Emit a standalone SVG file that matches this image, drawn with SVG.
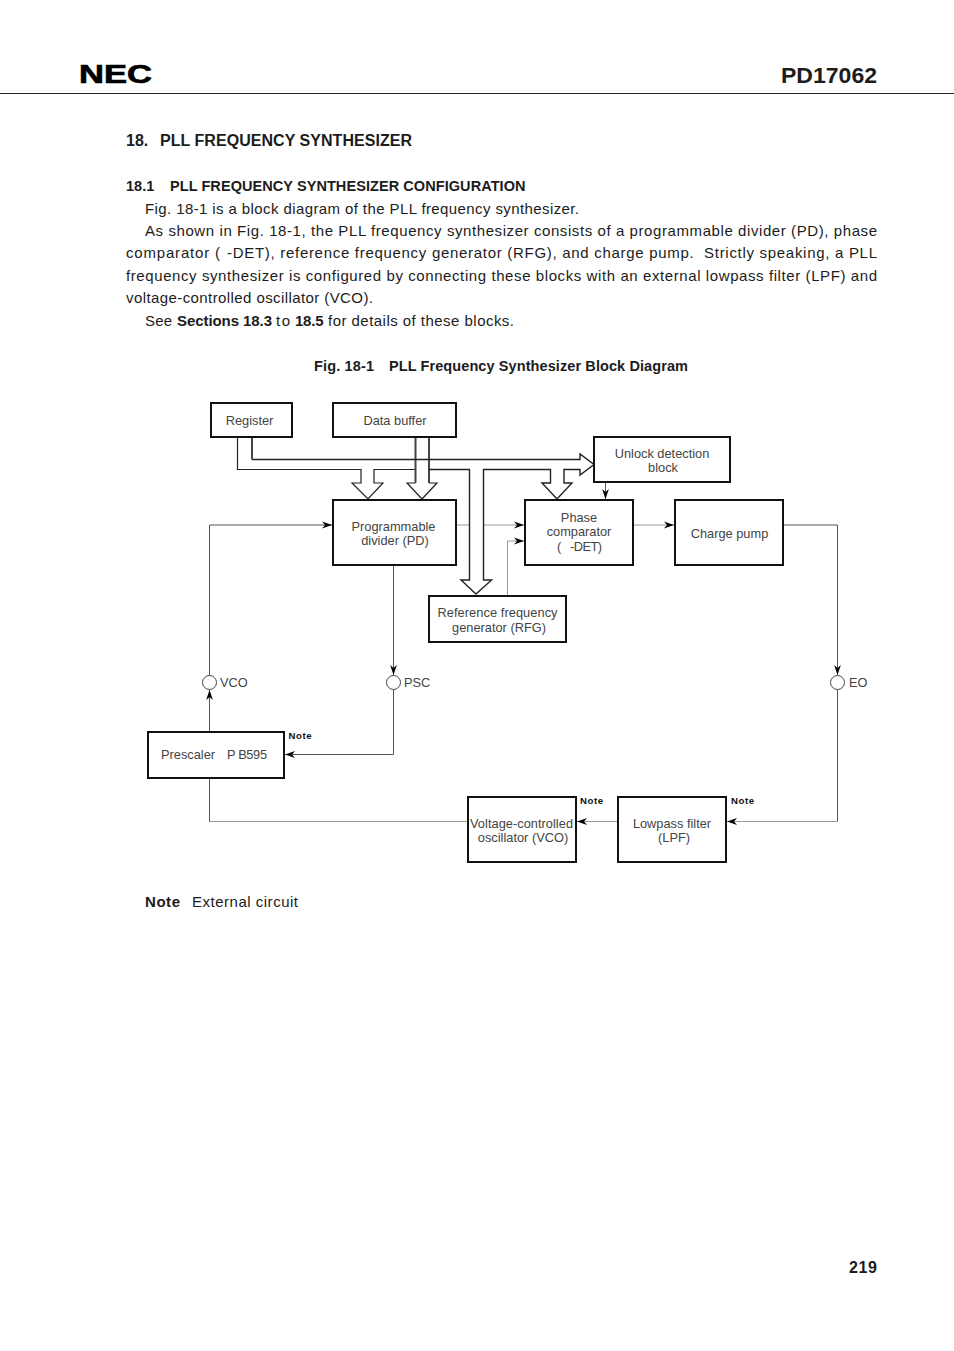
<svg xmlns="http://www.w3.org/2000/svg" width="954" height="1351" viewBox="0 0 954 1351">
<style>
text{font-family:"Liberation Sans",Arial,sans-serif;fill:#1c1c1c;white-space:pre}
.b{font-size:15px}
.h{font-weight:bold}
.l{font-size:12.8px;fill:#444;text-anchor:middle}
.s{font-size:12.8px;fill:#444}
.n{font-size:9.6px;font-weight:bold;fill:#111}
.box{fill:#fff;stroke:#111;stroke-width:2}
.bus{fill:none;stroke:#222;stroke-width:1.2;stroke-linejoin:miter}
.bt{fill:none;stroke:#444;stroke-width:2}
.c{fill:none;stroke:#555;stroke-width:1}
.c2{fill:none;stroke:#999;stroke-width:1}
.m{fill:#fff;stroke:#444;stroke-width:1}
</style>
<defs>
<marker id="a" markerUnits="userSpaceOnUse" markerWidth="11" markerHeight="8" refX="10" refY="4" orient="auto">
<path d="M0,0.6 L10,4 L0,7.4 L3,4 Z" fill="#000"/>
</marker>
</defs>
<rect width="954" height="1351" fill="#fff"/>
<g id="page-header">
<text x="79" y="83" font-size="26" font-weight="bold" textLength="73" lengthAdjust="spacingAndGlyphs" style="fill:#000;stroke:#000;stroke-width:.7">NEC</text>
<text x="781" y="83" font-size="21.5" class="h" textLength="96" lengthAdjust="spacingAndGlyphs">PD17062</text>
<line x1="0" y1="93.5" x2="954" y2="93.5" stroke="#222" stroke-width="1"/>
</g>
<g id="body-text">
<text x="126" y="146" font-size="16" class="h">18.</text>
<text x="160" y="146" font-size="16" class="h" textLength="252">PLL FREQUENCY SYNTHESIZER</text>
<text x="126" y="191" font-size="14.5" class="h">18.1</text>
<text x="170" y="191" font-size="14.5" class="h" textLength="355.5">PLL FREQUENCY SYNTHESIZER CONFIGURATION</text>
<text x="145" y="214" class="b" textLength="434">Fig. 18-1 is a block diagram of the PLL frequency synthesizer.</text>
<text x="145" y="236" class="b" textLength="732">As shown in Fig. 18-1, the PLL frequency synthesizer consists of a programmable divider (PD), phase</text>
<text x="126" y="258" class="b" textLength="94">comparator (</text>
<text x="227" y="258" class="b" textLength="650">-DET), reference frequency generator (RFG), and charge pump.  Strictly speaking, a PLL</text>
<text x="126" y="281" class="b" textLength="751">frequency synthesizer is configured by connecting these blocks with an external lowpass filter (LPF) and</text>
<text x="126" y="303" class="b" textLength="247">voltage-controlled oscillator (VCO).</text>
<text x="145" y="326" class="b" textLength="27">See</text>
<text x="177" y="326" class="b h" textLength="95">Sections 18.3</text>
<text x="276" y="326" class="b" textLength="14">to</text>
<text x="295" y="326" class="b h" textLength="28.5">18.5</text>
<text x="328" y="326" class="b" textLength="186">for details of these blocks.</text>
<text x="314" y="371" font-size="14.5" class="h" textLength="60">Fig. 18-1</text>
<text x="389" y="371" font-size="14.5" class="h" textLength="299">PLL Frequency Synthesizer Block Diagram</text>
</g>
<g id="connectors">
<path class="c" d="M209.5,675 V525 H332" marker-end="url(#a)"/>
<path class="c" d="M209.5,732 V690" marker-end="url(#a)"/>
<path class="c2" d="M468,821.5 H209.5"/>
<path class="c" d="M209.5,821.5 V778"/>
<path class="c" d="M393.5,565 V675" marker-end="url(#a)"/>
<path class="c" d="M393.5,690 V754.5 H285" marker-end="url(#a)"/>
<path class="c2" d="M456,525 H470"/>
<path class="c2" d="M483,525 H524" marker-end="url(#a)"/>
<path class="c2" d="M507.5,596 V541 H524" marker-end="url(#a)"/>
<path class="c" d="M605.5,482 V499" marker-end="url(#a)"/>
<path class="c2" d="M633,525 H674" marker-end="url(#a)"/>
<path class="c" d="M783,525 H837.5 V675" marker-end="url(#a)"/>
<path class="c" d="M837.5,690 V821.5"/>
<path class="c2" d="M837.5,821.5 H727" marker-end="url(#a)"/>
<path class="c2" d="M618,821.5 H577" marker-end="url(#a)"/>
<path class="bus" d="M237.5,437 V469.5 H361 V483 H352 L368,499 L383,483 H374 V469.5 H415"/>
<path class="bus" d="M415.5,483 H407 L422,499 L437,483 H429"/>
<path class="bt" d="M415.5,437 V483 M429,437 V483"/>
<path class="bus" d="M252,459.5 H580 V454 L594,464.5 L580,475 V469.5 H564 V483 H572 L557,499 L542,483 H550.5 V469.5 H483.5 V580 H491.5 L476,594 L461,580 H469.5 V469.5 H429" style="stroke-width:1.4"/>
<path class="bt" d="M252,437 V459.5"/>
</g>
<g id="register"><rect class="box" x="211" y="403" width="81" height="34"/><text class="l" x="249.5" y="425">Register</text></g>
<g id="data-buffer"><rect class="box" x="333" y="403" width="123" height="34"/><text class="l" x="395" y="425">Data buffer</text></g>
<g id="unlock-detection"><rect class="box" x="594" y="437" width="136" height="45"/><text class="l" x="662" y="458">Unlock detection</text><text class="l" x="663" y="472">block</text></g>
<g id="programmable-divider"><rect class="box" x="333" y="500" width="123" height="65"/><text class="l" x="393.5" y="531">Programmable</text><text class="l" x="395" y="545">divider (PD)</text></g>
<g id="phase-comparator"><rect class="box" x="525" y="500" width="108" height="65"/><text class="l" x="579" y="522">Phase</text><text class="l" x="579" y="536">comparator</text><text class="s" x="557" y="551">(</text><text class="s" x="570" y="551" textLength="32">-DET)</text></g>
<g id="charge-pump"><rect class="box" x="675" y="500" width="108" height="65"/><text class="l" x="729.5" y="538">Charge pump</text></g>
<g id="rfg"><rect class="box" x="429" y="596" width="137" height="46"/><text class="l" x="497.5" y="617" textLength="120">Reference frequency</text><text class="l" x="499" y="632">generator (RFG)</text></g>
<g id="prescaler"><rect class="box" x="148" y="732" width="136" height="46"/><text class="s" x="161" y="759">Prescaler</text><text class="s" x="227" y="759" textLength="40">P B595</text></g>
<g id="vco"><rect class="box" x="468" y="797" width="108" height="65"/><text class="l" x="521.5" y="828" textLength="103">Voltage-controlled</text><text class="l" x="523" y="842">oscillator (VCO)</text></g>
<g id="lpf"><rect class="box" x="618" y="797" width="108" height="65"/><text class="l" x="672" y="828">Lowpass filter</text><text class="l" x="674" y="842">(LPF)</text></g>
<g id="pin-vco"><circle class="m" cx="209.5" cy="682.5" r="7"/><text class="s" x="220" y="687">VCO</text></g>
<g id="pin-psc"><circle class="m" cx="393.5" cy="682.5" r="7"/><text class="s" x="404" y="687">PSC</text></g>
<g id="pin-eo"><circle class="m" cx="837.5" cy="682.5" r="7"/><text class="s" x="849" y="687">EO</text></g>
<g id="notes">
<text class="n" x="288.5" y="739" textLength="23">Note</text>
<text class="n" x="580" y="804" textLength="23">Note</text>
<text class="n" x="731" y="804" textLength="23">Note</text>
<text x="145" y="907" class="b h" textLength="35">Note</text>
<text x="192" y="907" class="b" textLength="106">External circuit</text>
</g>
<text id="page-number" x="849" y="1273" font-size="16" class="h" textLength="28">219</text>
</svg>
